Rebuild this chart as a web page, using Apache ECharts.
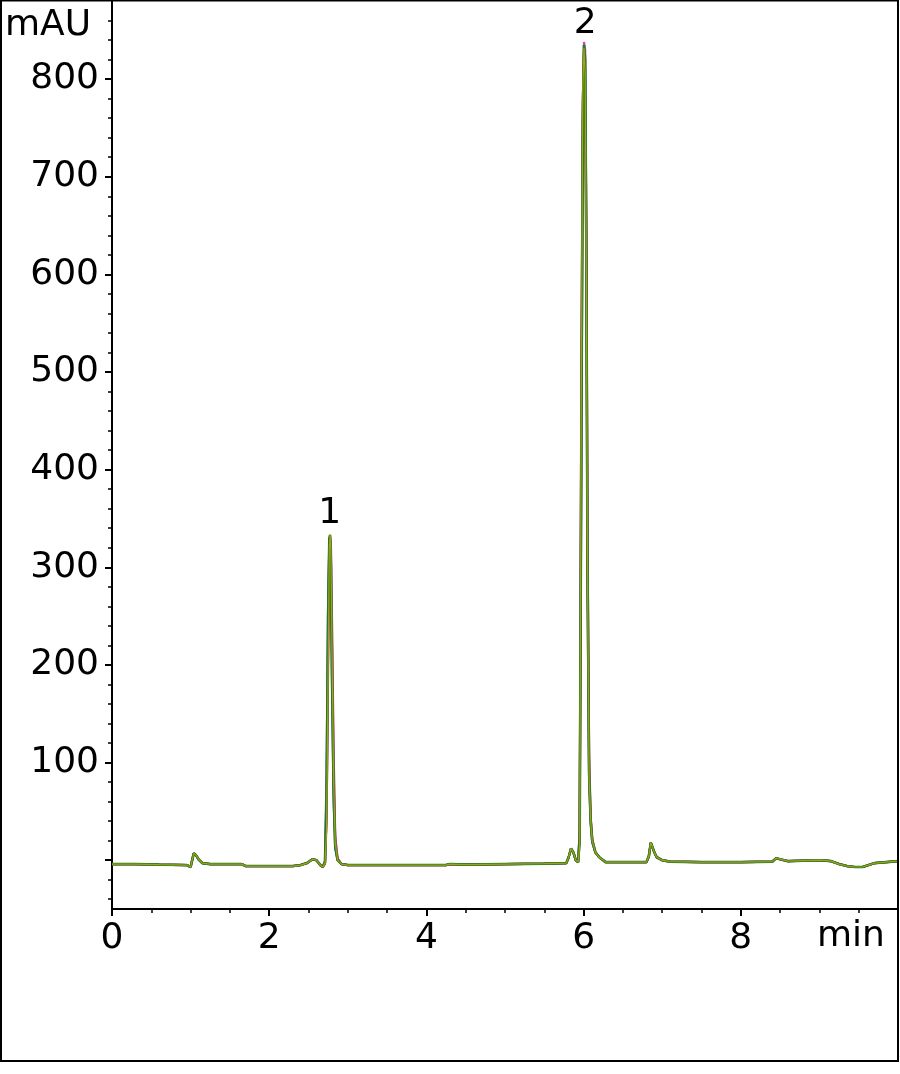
<!DOCTYPE html>
<html>
<head>
<meta charset="utf-8">
<script src="https://cdn.jsdelivr.net/npm/echarts@6/dist/echarts.min.js"></script>
<style>
html,body{margin:0;padding:0;background:#fff;}
#chart{width:900px;height:1074px;}
</style>
</head>
<body>
<div id="chart"></div>
<script>
// retention time (min)
var times = [
  0, 0.3, 0.6, 0.95, 1.0, 1.02, 1.04, 1.07, 1.1, 1.15,
  1.25, 1.65, 1.7, 2.0, 2.3, 2.4, 2.48, 2.55, 2.6, 2.65,
  2.68, 2.71, 2.73, 2.75, 2.765, 2.775, 2.785, 2.8, 2.82, 2.84,
  2.87, 2.92, 3.0, 3.5, 4.0, 4.25, 4.3, 4.5, 5.0, 5.5,
  5.78, 5.81, 5.84, 5.87, 5.9, 5.93, 5.95, 5.97, 5.99, 6.005,
  6.02, 6.035, 6.05, 6.07, 6.09, 6.11, 6.15, 6.2, 6.28, 6.5,
  6.8, 6.83, 6.855, 6.875, 6.9, 6.93, 7.0, 7.1, 7.5, 8.0,
  8.4, 8.45, 8.5, 8.6, 9.0, 9.15, 9.25, 9.35, 9.45, 9.55,
  9.7, 9.85, 10.0
];
// absorbance traces (mAU)
var greenTrace = [
  -4, -4, -4.5, -5, -7, 0, 7, 5, 1, -3,
  -4, -4, -6, -6, -6, -5, -3, 1, 0, -5,
  -7, -2, 60, 250, 330, 333, 300, 190, 70, 15,
  0, -4, -5, -5, -5, -5, -4, -4.5, -4, -3.5,
  -3, 3, 12, 8, 0, -2, 20, 400, 760, 835,
  820, 620, 300, 90, 40, 20, 8, 3, -2, -2,
  -2, 4, 18, 16, 8, 3, 0, -1.5, -2, -2,
  -1.5, 2, 1, -1, 0, -1, -4, -6, -7, -7,
  -3, -2, -1
];
var oliveTrace = [
  -4, -4, -4.5, -5, -7, 0, 7, 5, 1, -3,
  -4, -4, -6, -6, -6, -5, -3, 1, 0, -5,
  -7, -3, 30, 200, 320, 334, 315, 210, 80, 18,
  0, -4, -5, -5, -5, -5, -4, -4.5, -4, -3.5,
  -3, 3, 12, 8, 0, -2, 15, 460, 790, 832,
  805, 600, 290, 85, 40, 20, 8, 3, -2, -2,
  -2, 4, 18, 16, 8, 3, 0, -1.5, -2, -2,
  -1.5, 2, 1, -1, 0, -1, -4, -6, -7, -7,
  -3, -2, -1
];
var redTrace = [
  -4, -4, -4.5, -5, -7, 0, 7, 5, 1, -3,
  -4, -4, -6, -6, -6, -5, -3, 1, 0, -5,
  -7, -4, 40, 200, 310, 328, 320, 240, 110, 25,
  2, -4, -5, -5, -5, -5, -4, -4.5, -4, -3.5,
  -3, 3, 12, 8, 0, -2, 25, 470, 780, 830,
  800, 650, 330, 110, 45, 22, 8, 3, -2, -2,
  -2, 4, 18, 16, 8, 3, 0, -1.5, -2, -2,
  -1.5, 2, 1, -1, 0, -1, -4, -6, -7, -7,
  -3, -2, -1
];
var blueTrace = [
  -4, -4, -4.5, -5, -7, 0, 7, 5, 1, -3,
  -4, -4, -6, -6, -6, -5, -3, 1, 0, -5,
  -7, -1, 90, 270, 325, 320, 280, 170, 60, 12,
  0, -4, -5, -5, -5, -5, -4, -4.5, -4, -3.5,
  -3, 3, 12, 8, 0, -2, 30, 380, 740, 826,
  810, 600, 280, 80, 38, 18, 8, 3, -2, -2,
  -2, 4, 18, 16, 8, 3, 0, -1.5, -2, -2,
  -1.5, 2, 1, -1, 0, -1, -4, -6, -7, -7,
  -3, -2, -1
];
var magentaTrace = [
  -4, -4, -4.5, -5, -7, 0, 7, 5, 1, -3,
  -4, -4, -6, -6, -6, -5, -3, 1, 0, -5,
  -7, -2, 50, 230, 326, 331, 325, 220, 90, 20,
  1, -4, -5, -5, -5, -5, -4, -4.5, -4, -3.5,
  -3, 3, 12, 8, 0, -2, 18, 430, 770, 838,
  830, 640, 310, 95, 42, 20, 8, 3, -2, -2,
  -2, 4, 18, 16, 8, 3, 0, -1.5, -2, -2,
  -1.5, 2, 1, -1, 0, -1, -4, -6, -7, -7,
  -3, -2, -1
];
// peak annotations
var peakNames = ['1', '2'];
var peakTimes = [2.77, 6.02];
var peakHeights = [333, 835];
// axis ticks / labels
var yLabelValues = [100, 200, 300, 400, 500, 600, 700, 800];
var yMajorTicks = [0, 100, 200, 300, 400, 500, 600, 700, 800];
var yMinorTicks = [-40, -20, 20, 40, 60, 80, 120, 140, 160, 180, 220, 240, 260, 280, 320, 340, 360, 380,
  420, 440, 460, 480, 520, 540, 560, 580, 620, 640, 660, 680, 720, 740, 760, 780, 820, 840, 860];
var xLabelValues = [0, 2, 4, 6, 8];

function pairs(vals) {
  return times.map(function (t, i) { return [t, vals[i]]; });
}

var FONT = 'DejaVu Sans';
var FS = 36;
var chart = echarts.init(document.getElementById('chart'), null, {renderer: 'canvas'});

function trace(name, vals, color, width) {
  return {
    name: name, type: 'line', data: pairs(vals), showSymbol: false, symbol: 'none',
    lineStyle: {color: color, width: width}, itemStyle: {color: color},
    xAxisIndex: 0, yAxisIndex: 0, silent: true, z: 2
  };
}

chart.setOption({
  animation: false,
  backgroundColor: '#ffffff',
  grid: {left: 112, right: 2, top: 1, bottom: 165, containLabel: false},
  xAxis: {
    type: 'value', min: 0, max: 10, interval: 2,
    axisLine: {show: true, onZero: false, lineStyle: {color: '#000', width: 2}},
    axisTick: {show: true, length: 7, lineStyle: {color: '#000', width: 2}},
    minorTick: {show: true, splitNumber: 4, length: 4, lineStyle: {color: '#000', width: 1.5}},
    axisLabel: {
      customValues: xLabelValues,
      fontSize: FS, fontFamily: FONT, color: '#000', margin: 12
    },
    splitLine: {show: false}
  },
  yAxis: [{
    type: 'value', min: -50, max: 880, position: 'left',
    axisLine: {show: true, onZero: false, lineStyle: {color: '#000', width: 2}},
    axisTick: {show: true, customValues: yMajorTicks, length: 7, lineStyle: {color: '#000', width: 2}},
    axisLabel: {customValues: yLabelValues, fontSize: FS, fontFamily: FONT, color: '#000', margin: 13},
    splitLine: {show: false}
  }, {
    type: 'value', min: -50, max: 880, position: 'left',
    axisLine: {show: false},
    axisTick: {show: true, customValues: yMinorTicks, length: 4, lineStyle: {color: '#000', width: 1.5}},
    axisLabel: {show: false},
    splitLine: {show: false}
  }],
  series: [
    trace('blue', blueTrace, '#3b3bd6', 2.2),
    trace('red', redTrace, '#d8323c', 2.2),
    trace('magenta', magentaTrace, '#c848c8', 2.2),
    trace('green', greenTrace, '#1f7f14', 2.6),
    trace('olive', oliveTrace, '#a2a21c', 1.2),
    {
      type: 'scatter', xAxisIndex: 0, yAxisIndex: 0, silent: true,
      data: peakTimes.map(function (t, i) { return [t, peakHeights[i]]; }),
      symbolSize: 1, itemStyle: {color: 'transparent'},
      label: {
        show: true, position: 'top', distance: 3,
        formatter: function (p) { return peakNames[p.dataIndex]; },
        fontSize: FS, fontFamily: FONT, color: '#000', opacity: 1
      },
      z: 5
    }
  ],
  graphic: [
    {type: 'rect', shape: {x: 1, y: 0.5, width: 897, height: 1060.5},
     style: {fill: 'none', stroke: '#000', lineWidth: 2}, silent: true, z: 100},
    {type: 'text', left: 5, top: 8, style: {text: 'mAU', font: FS + 'px "DejaVu Sans"', fill: '#000'}, z: 100},
    {type: 'text', left: 817, top: 919, style: {text: 'min', font: FS + 'px "DejaVu Sans"', fill: '#000'}, z: 100}
  ]
});
</script>
</body>
</html>
